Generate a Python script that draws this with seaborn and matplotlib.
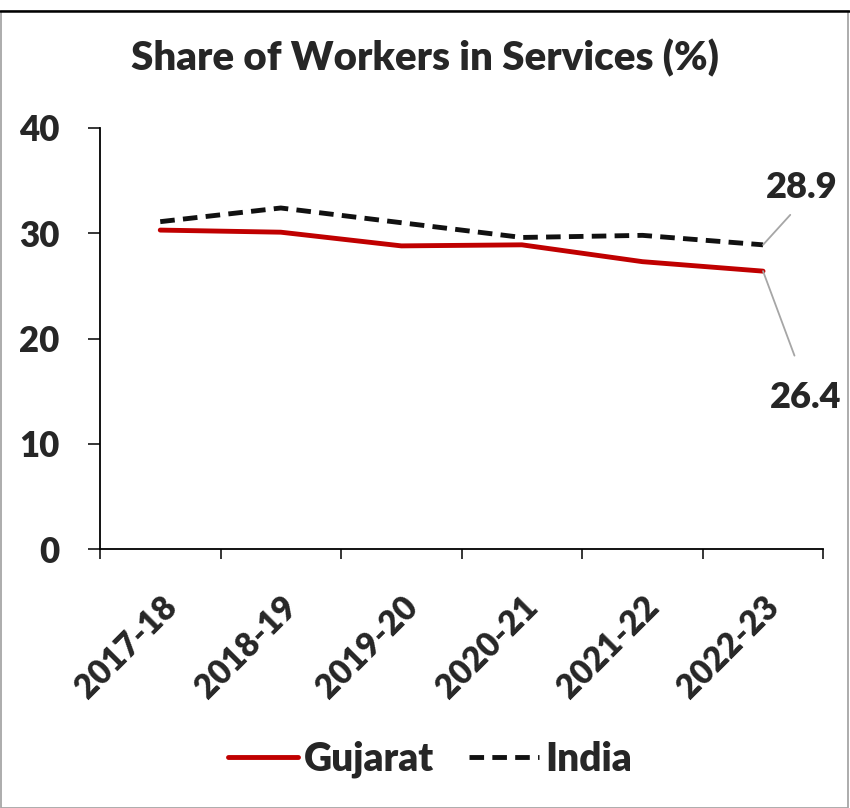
import pandas as pd
import matplotlib.pyplot as plt
import seaborn as sns
from matplotlib.lines import Line2D

# Data
years = ['2017-18', '2018-19', '2019-20', '2020-21', '2021-22', '2022-23']
gujarat = [30.3, 30.1, 28.8, 28.9, 27.3, 26.4]
india = [31.1, 32.4, 31.0, 29.6, 29.8, 28.9]

df = pd.DataFrame({
    'Year': years * 2,
    'Share': gujarat + india,
    'Region': ['Gujarat'] * len(years) + ['India'] * len(years),
})

sns.set_style('white')
plt.rcParams['font.family'] = ['Lato', 'DejaVu Sans']
W = 'heavy'

fig = plt.figure(figsize=(8.5, 8.08), dpi=100)
ax = fig.add_axes([0.1176, 0.3205, 0.851, 0.5211])

sns.lineplot(data=df, x='Year', y='Share', hue='Region', style='Region',
             palette={'Gujarat': '#c00000', 'India': '#111111'},
             dashes={'Gujarat': '', 'India': (3.0, 1.7)},
             linewidth=3.5, sort=False, ax=ax, legend=False)

ax.set_xlim(-0.5, 5.5)
ax.set_ylim(0, 40)
ax.set_yticks([0, 10, 20, 30, 40])
ax.set_xlabel('')
ax.set_ylabel('')
sns.despine(ax=ax)
for s in ['left', 'bottom']:
    ax.spines[s].set_color('black')
    ax.spines[s].set_linewidth(1.3)

ax.tick_params(axis='y', which='major', length=9, width=1.3, direction='out',
               pad=20, labelsize=25, left=True)
ax.set_xticks(range(len(years)))
ax.set_xticklabels(years, rotation=45, ha='right', rotation_mode='anchor',
                   fontsize=24, fontweight=W)
ax.tick_params(axis='x', which='major', length=0, pad=30)
ax.set_xticks([i - 0.5 for i in range(len(years) + 1)], minor=True)
ax.tick_params(axis='x', which='minor', length=7, width=1.3, direction='out',
               bottom=True)
for lbl in ax.get_yticklabels():
    lbl.set_fontweight(W)

# end labels with leader lines
ax.annotate(f'{india[-1]:.1f}', xy=(5, india[-1]), xytext=(28, 41),
            textcoords='offset points', fontsize=26, fontweight=W,
            ha='center', va='center',
            arrowprops=dict(arrowstyle='-', color='#a6a6a6', lw=1.3,
                            relpos=(0.47, 0.0), shrinkA=7, shrinkB=0))
ax.annotate(f'{gujarat[-1]:.1f}', xy=(5, gujarat[-1]), xytext=(31, -91),
            textcoords='offset points', fontsize=26, fontweight=W,
            ha='center', va='center',
            arrowprops=dict(arrowstyle='-', color='#a6a6a6', lw=1.3,
                            relpos=(0.47, 1.0), shrinkA=17, shrinkB=0))

fig.text(0.5, 0.928, 'Share of Workers in Services (%)', ha='center',
         va='center', fontsize=29, fontweight=W)

# legend
handles = [Line2D([], [], color='#c00000', lw=3.5),
           Line2D([], [], color='#111111', lw=3.5, dashes=(3.0, 1.7))]
fig.legend(handles, ['Gujarat', 'India'], loc='center',
           bbox_to_anchor=(0.506, 0.06), ncol=2, frameon=False,
           prop={'size': 28, 'weight': W}, handlelength=1.8,
           handletextpad=0.15, columnspacing=0.9)

# outer frame like the source
fig.patches.append(plt.Rectangle((0.001, 0.0), 0.997, 0.987,
                                 transform=fig.transFigure, fill=False,
                                 edgecolor='#a6a6a6', lw=1.3))
fig.add_artist(Line2D([0, 1], [0.987, 0.987], transform=fig.transFigure,
                      color='black', lw=1.8))

fig.savefig('out.png', dpi=100)
